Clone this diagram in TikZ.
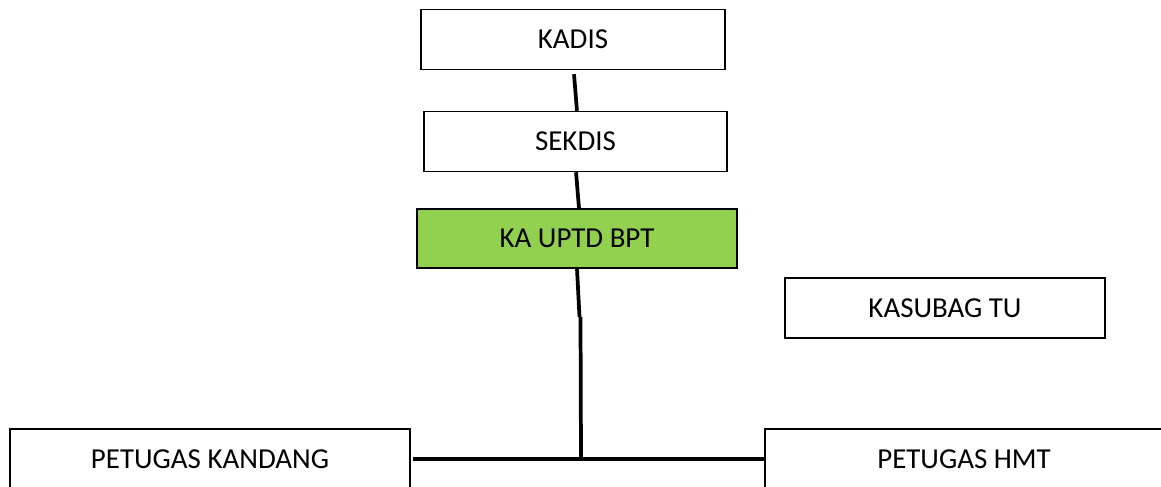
\documentclass[tikz,border=0pt]{standalone}
\usepackage{fontspec}
\setmainfont{Carlito}
\definecolor{uptdgreen}{HTML}{92D050}

\begin{document}
\begin{tikzpicture}[x=0.75pt, y=-0.75pt,
    box/.style={rectangle, draw, line width=1.1pt, inner sep=0pt, minimum height=45pt, text centered, font=\fontsize{21.7}{26}\selectfont},
    link/.style={line width=2.8pt}]
    \useasboundingbox (0,0) rectangle (1161,486);
    \clip (0,0) rectangle (1161,486);

    % Main components
    \node [box, minimum width=228pt] (kadis) at (573,39.5) {KADIS};
    \node [box, minimum width=227.25pt] (sekdis) at (575.5,141.5) {SEKDIS};
    \node [box, fill=uptdgreen, minimum width=240pt, minimum height=44.25pt] (uptd) at (577,238.5) {KA UPTD BPT};
    \node [box, minimum width=240pt] (kasubag) at (945,308) {KASUBAG TU};
    \node [box, minimum width=300pt] (kandang) at (210,459) {PETUGAS KANDANG};
    \node [box, minimum width=298.5pt] (hmt) at (964,459) {PETUGAS HMT};

    \coordinate (bend) at (579.5,317);
    \coordinate (junction) at (581,459);

    % Lines
    \draw[link] ([xshift=0.75pt, yshift=-3pt]kadis.south) -- ([xshift=1.1pt]sekdis.north);
    \draw[link] ([xshift=0.4pt]sekdis.south) -- ([xshift=1.5pt]uptd.north);
    \draw[link] (uptd.south) -- (bend);
    \draw[link] ([xshift=0.75pt]bend) -- (junction);
    \draw[link] ([xshift=1.5pt]kandang.east) -- (hmt.west);
\end{tikzpicture}
\end{document}
